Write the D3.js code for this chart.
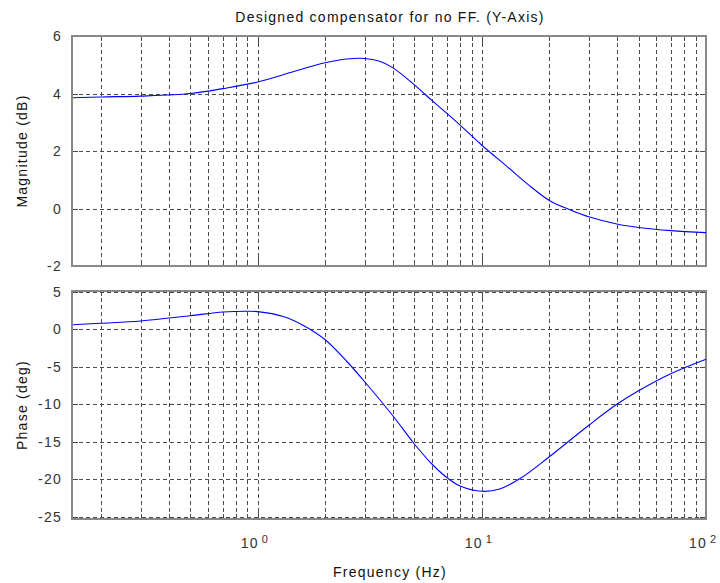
<!DOCTYPE html>
<html><head><meta charset="utf-8">
<script src="https://cdn.jsdelivr.net/npm/d3@7"></script>
<style>body{margin:0;background:#fff;} text{font-family:"Liberation Sans",Arial,sans-serif;letter-spacing:1.25px;}</style>
</head><body><svg id="c" width="720" height="583"></svg>
<script>
const title = "Designed compensator for no FF. (Y-Axis)";
const magFreq = [0.15,0.2,0.3,0.5,0.7,1.0,1.5,2.0,2.5,3.0,3.5,4.0,5.0,6.0,7.0,8.0,10,13,16,20,25,30,40,50,70,100];
const magDb   = [3.85,3.88,3.91,4.0,4.17,4.4,4.8,5.07,5.2,5.22,5.12,4.9,4.3,3.75,3.3,2.9,2.2,1.45,0.85,0.28,-0.06,-0.29,-0.54,-0.66,-0.77,-0.84];
const phFreq = [0.15,0.2,0.3,0.5,0.7,0.9,1.0,1.3,1.6,2.0,2.5,3.0,4.0,5.0,6.0,7.0,8.0,10,12,15,20,30,40,50,70,100];
const phDeg  = [0.6,0.8,1.1,1.8,2.3,2.4,2.35,1.7,0.5,-1.4,-4.3,-7,-11.5,-15.3,-18,-19.8,-20.9,-21.6,-21.3,-19.8,-17,-12.8,-10,-8.2,-5.9,-4.0];
const magTicks = [-2,0,2,4,6];
const phTicks = [-25,-20,-15,-10,-5,0,5];
const decades = [0,1,2];

const svg = d3.select("#c");
const L=72, R=706;
const x = d3.scaleLog().domain([0.1484,100]).range([L,R]);
const yM = d3.scaleLinear().domain([-2,6]).range([266,36]);
const yP = d3.scaleLinear().domain([-25.3,5.1]).range([519,291]);

const gridF = [];
for (let d=-1; d<2; d++) for (let k=1;k<10;k++){const f=k*Math.pow(10,d); if(f>0.1484&&f<100) gridF.push(f);}
const GC="#4a4a4a";

function panel(y, ticks, freqs, vals, label){
  const [yb,yt]=y.range();
  const g=svg.append("g");
  g.selectAll(".vg").data(gridF).enter().append("line")
   .attr("x1",d=>Math.round(x(d))+0.5).attr("x2",d=>Math.round(x(d))+0.5).attr("y1",yt).attr("y2",yb)
   .attr("stroke",GC).attr("stroke-dasharray","4,3").attr("stroke-width",1);
  g.selectAll(".hg").data(ticks).enter().append("line")
   .attr("x1",L).attr("x2",R).attr("y1",d=>Math.round(y(d))+0.5).attr("y2",d=>Math.round(y(d))+0.5)
   .attr("stroke",GC).attr("stroke-dasharray","4,3").attr("stroke-width",1);
  g.selectAll(".xt").data(gridF).enter().append("g").each(function(d){
    const len = [1,10].includes(d)?9:5;
    const xx=Math.round(x(d))+0.5;
    d3.select(this).append("line").attr("x1",xx).attr("x2",xx).attr("y1",yb).attr("y2",yb-len).attr("stroke",GC);
    d3.select(this).append("line").attr("x1",xx).attr("x2",xx).attr("y1",yt).attr("y2",yt+len).attr("stroke",GC);
  });
  g.selectAll(".yt").data(ticks).enter().append("g").each(function(d){
    const yy=Math.round(y(d))+0.5;
    d3.select(this).append("line").attr("x1",L).attr("x2",L+6).attr("y1",yy).attr("y2",yy).attr("stroke",GC);
    d3.select(this).append("line").attr("x1",R).attr("x2",R-6).attr("y1",yy).attr("y2",yy).attr("stroke",GC);
  });
  g.append("rect").attr("x",L).attr("y",yt).attr("width",R-L).attr("height",yb-yt)
   .attr("fill","none").attr("stroke","#888").attr("stroke-width",2);
  g.selectAll(".yl").data(ticks).enter().append("text")
   .attr("x",L-10).attr("y",d=>y(d)+5).attr("text-anchor","end")
   .attr("font-size",14).attr("fill","#333").text(d=>d);
  const line=d3.line().x(d=>x(d[0])).y(d=>y(d[1])).curve(d3.curveCatmullRom.alpha(0.5));
  g.append("path").datum(freqs.map((f,i)=>[f,vals[i]]))
   .attr("d",line).attr("fill","none").attr("stroke","#0000ff").attr("stroke-width",1.1);
  g.append("text").attr("transform",`translate(27,${(yt+yb)/2}) rotate(-90)`)
   .attr("text-anchor","middle").attr("font-size",14).attr("fill","#111").text(label);
}
panel(yM, magTicks, magFreq, magDb, "Magnitude (dB)");
panel(yP, phTicks, phFreq, phDeg, "Phase (deg)");

decades.forEach(dd=>{
  const xx=x(Math.pow(10,dd));
  svg.append("text").attr("x",xx+1).attr("y",548).attr("text-anchor","end").attr("font-size",14).attr("fill","#333").text("10");
  svg.append("text").attr("x",xx+4).attr("y",543).attr("font-size",11).attr("fill","#333").style("letter-spacing","0px").text(dd);
});
svg.append("text").attr("x",390).attr("y",577).attr("text-anchor","middle").attr("font-size",14).attr("fill","#111").text("Frequency (Hz)");
svg.append("text").attr("x",390).attr("y",22).attr("text-anchor","middle").attr("font-size",14).attr("fill","#111").text(title);
</script></body></html>
